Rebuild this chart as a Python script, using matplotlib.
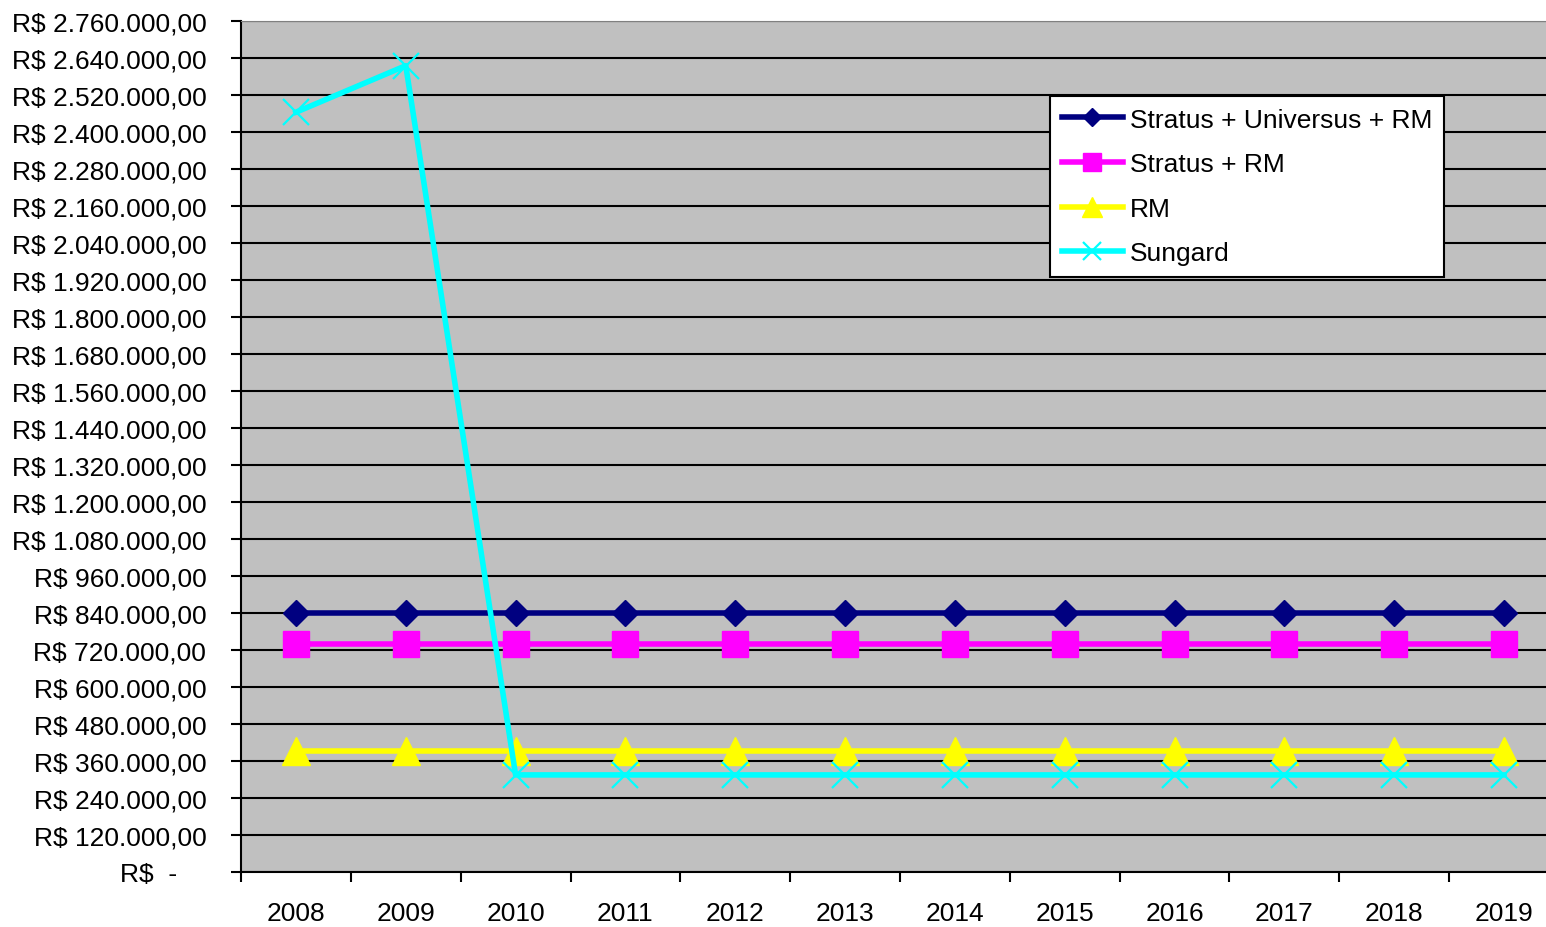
import matplotlib

matplotlib.use("Agg")
import matplotlib.pyplot as plt  # noqa: E402
import numpy as np  # noqa: E402

years = ["2008", "2009", "2010", "2011", "2012", "2013",
         "2014", "2015", "2016", "2017", "2018", "2019"]
stratus_universus_rm = [840000] * 12
stratus_rm = [738000] * 12
rm = [393000] * 12
sungard = [2464000, 2615000] + [314000] * 10

y_ticks = list(range(0, 2760001, 120000))


def brl(v):
    if v == 0:
        return "R$  -    "
    s = f"{v:,.2f}"
    s = s.replace(",", "X").replace(".", ",").replace("X", ".")
    return "R$ " + s


plt.rcParams["font.family"] = ["Liberation Sans", "DejaVu Sans"]
fs = 19

fig = plt.figure(figsize=(15.46, 9.28), dpi=100)
ax = fig.add_axes([0.1559, 0.0596, 0.8525, 0.9167])
ax.set_facecolor("#C0C0C0")

x = np.arange(len(years)) + 0.5
lw = 4
ax.plot(x, stratus_universus_rm, color="#000080", lw=lw, marker="D",
        markersize=13.5, label="Stratus + Universus + RM", zorder=3)
ax.plot(x, stratus_rm, color="#FF00FF", lw=lw, marker="s",
        markersize=18.5, label="Stratus + RM", zorder=3)
ax.plot(x, rm, color="#FFFF00", lw=lw, marker="^",
        markersize=20, label="RM", zorder=3)
ax.plot(x, sungard, color="#00FFFF", lw=lw, marker="x",
        markersize=18.5, markeredgewidth=1.6, label="Sungard", zorder=3)

ax.set_xlim(0, len(years))
ax.set_ylim(0, 2760000)

ax.set_yticks(y_ticks)
ax.set_yticklabels([brl(v) for v in y_ticks])
ax.yaxis.grid(True, color="black", lw=1.5)
ax.set_axisbelow(True)

ax.set_xticks(np.arange(len(years) + 1))
ax.set_xticklabels([])
ax.set_xticks(x, minor=True)
ax.set_xticklabels(years, minor=True)
ax.tick_params(axis="x", which="minor", length=0, pad=21, labelsize=fs)
ax.tick_params(axis="x", which="major", length=7, width=1.5, direction="out")
ax.tick_params(axis="y", length=7, width=1.5, pad=18, labelsize=fs)

ax.spines["top"].set_color("#808080")
ax.spines["right"].set_visible(False)
ax.spines["left"].set_linewidth(1.5)
ax.spines["bottom"].set_linewidth(1.5)

leg = ax.legend(loc="upper left", bbox_to_anchor=(1050 / 1546, 1 - 96.7 / 928),
                bbox_transform=fig.transFigure, borderaxespad=0,
                fontsize=fs, frameon=True, fancybox=False, framealpha=1,
                edgecolor="black", handlelength=2.3, handletextpad=0.27,
                labelspacing=0.78, borderpad=0.45, markerscale=0.7)
leg.get_frame().set_linewidth(1.5)

fig.savefig("out.png", dpi=100)
